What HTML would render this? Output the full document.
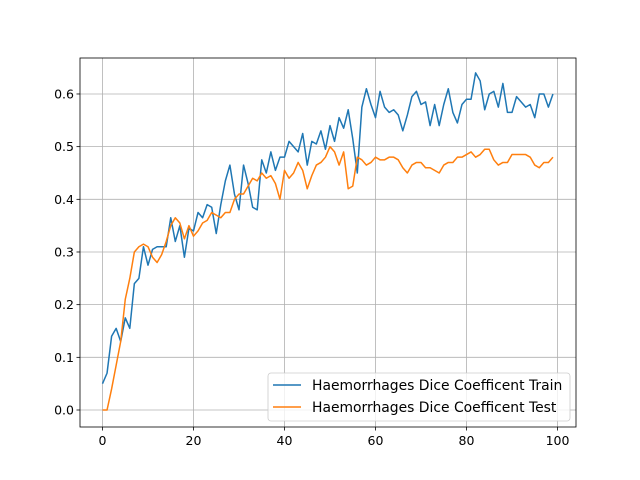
<!DOCTYPE html>
<html><head><meta charset="utf-8"><style>body{margin:0;background:#fff}svg{display:block}text{font-family:"DejaVu Sans","Liberation Sans",sans-serif}</style></head>
<body>
<svg id="chart" width="640" height="480"></svg>
<script>
const xTicks=[0,20,40,60,80,100];
const yTicks=[0.0,0.1,0.2,0.3,0.4,0.5,0.6];
const trainVals=[0.05,0.07,0.14,0.155,0.13,0.175,0.155,0.24,0.25,0.31,0.275,0.305,0.31,0.31,0.31,0.365,0.32,0.35,0.29,0.345,0.34,0.375,0.365,0.39,0.385,0.335,0.39,0.435,0.465,0.41,0.38,0.465,0.43,0.385,0.38,0.475,0.45,0.49,0.455,0.48,0.48,0.51,0.5,0.49,0.525,0.465,0.51,0.505,0.53,0.495,0.54,0.51,0.555,0.535,0.57,0.515,0.45,0.575,0.61,0.58,0.555,0.605,0.575,0.565,0.57,0.56,0.53,0.56,0.595,0.605,0.58,0.585,0.54,0.58,0.54,0.58,0.61,0.565,0.545,0.58,0.59,0.59,0.64,0.625,0.57,0.6,0.605,0.575,0.62,0.565,0.565,0.595,0.585,0.575,0.58,0.555,0.6,0.6,0.575,0.6];
const testVals=[0,0,0.04,0.085,0.13,0.21,0.25,0.3,0.31,0.315,0.31,0.29,0.28,0.295,0.32,0.35,0.365,0.355,0.325,0.35,0.33,0.34,0.355,0.36,0.375,0.37,0.365,0.375,0.375,0.4,0.41,0.41,0.425,0.44,0.435,0.45,0.44,0.445,0.43,0.4,0.455,0.44,0.45,0.47,0.455,0.42,0.445,0.465,0.47,0.48,0.5,0.49,0.465,0.49,0.42,0.425,0.48,0.475,0.465,0.47,0.48,0.475,0.475,0.48,0.48,0.475,0.46,0.45,0.465,0.47,0.47,0.46,0.46,0.455,0.45,0.465,0.47,0.47,0.48,0.48,0.485,0.49,0.48,0.485,0.495,0.495,0.475,0.465,0.47,0.47,0.485,0.485,0.485,0.485,0.48,0.465,0.46,0.47,0.47,0.48];
const seriesNames=["Haemorrhages Dice Coefficent Train","Haemorrhages Dice Coefficent Test"];
const NS="http://www.w3.org/2000/svg";
const svg=document.getElementById('chart');
const L=80,R=576,T=58,B=427;
function sx(v){return 102.5+v*4.55;}
function sy(v){return 410-v*526.7;}
function mk(tag,attrs,parent){const e=document.createElementNS(NS,tag);for(const k in attrs)e.setAttribute(k,attrs[k]);(parent||svg).appendChild(e);return e;}
xTicks.forEach(t=>{
  const g=mk('line',{x1:sx(t),x2:sx(t),y1:T,y2:B,stroke:'#b0b0b0','stroke-width':0.8});
  
  
  mk('line',{x1:sx(t),x2:sx(t),y1:B,y2:B+3.5,stroke:'#000','stroke-width':0.8});
  const tx=mk('text',{x:sx(t),y:B+18,'text-anchor':'middle','font-size':12.5});
  tx.textContent=t;
  
  
});
yTicks.forEach(t=>{
  const g=mk('line',{x1:L,x2:R,y1:sy(t),y2:sy(t),stroke:'#b0b0b0','stroke-width':0.8});
  
  
  mk('line',{x1:L-3.5,x2:L,y1:sy(t),y2:sy(t),stroke:'#000','stroke-width':0.8});
  const tx=mk('text',{x:L-6,y:sy(t)+4.5,'text-anchor':'end','font-size':12.5});
  tx.textContent=t.toFixed(1);
  
  
});
function line(vals,color,name){
  const p=mk('polyline',{points:vals.map((v,i)=>sx(i)+','+sy(v)).join(' '),fill:'none',stroke:color,'stroke-width':1.5,'stroke-linejoin':'round'});
  
  
}
line(trainVals,'#1f77b4','train-line');
line(testVals,'#ff7f0e','test-line');
const fr=mk('rect',{x:L,y:T,width:R-L,height:B-T,fill:'none',stroke:'#000','stroke-width':0.8});


const lg=mk('g',{});


mk('rect',{x:268,y:373,width:302,height:48,rx:3,fill:'#fff','fill-opacity':0.8,stroke:'#ccc','stroke-width':0.8},lg);
['#1f77b4','#ff7f0e'].forEach((c,i)=>{
  const y=385+i*22;
  const e=mk('g',{},lg);
  
  
  mk('line',{x1:273,x2:301,y1:y,y2:y,stroke:c,'stroke-width':1.5},e);
  const t=mk('text',{x:312,y:y+5,'font-size':13.9},e);
  t.textContent=seriesNames[i];
});
</script>
</body></html>
